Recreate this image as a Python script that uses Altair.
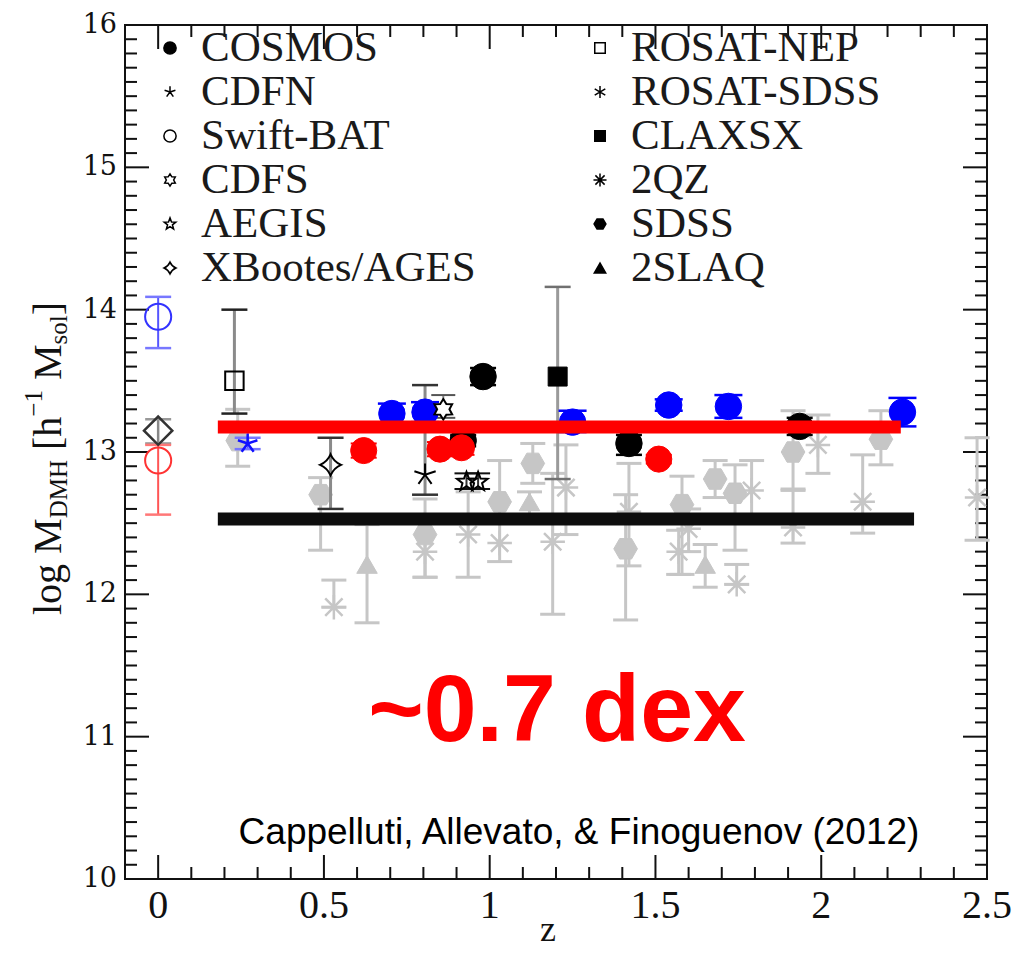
import altair as alt
import numpy as np
import pandas as pd

# ---------------- values ----------------
# grey literature compilation
sdss_z  = [0.24, 0.49, 0.805, 1.03, 1.13, 1.41, 1.58, 1.68, 1.74, 1.915, 2.18]
sdss_m  = [13.08, 12.70, 12.42, 12.65, 12.92, 12.32, 12.63, 12.81, 12.71, 13.00, 13.09]
sdss_lo = [12.90, 12.31, 12.12, 12.50, 12.78, 11.82, 12.14, 12.68, 12.31, 12.74, 12.91]
sdss_hi = [13.30, 12.82, 12.67, 12.94, 13.06, 12.70, 12.83, 12.94, 12.91, 13.29, 13.29]

qz_z  = [0.53, 0.805, 0.935, 1.03, 1.19, 1.23, 1.42, 1.57, 1.60, 1.745, 1.79, 1.915, 1.99, 2.125, 2.47]
qz_m  = [11.91, 12.30, 12.42, 12.36, 12.37, 12.75, 12.58, 12.30, 12.46, 12.07, 12.73, 12.47, 13.05, 12.65, 12.68]
qz_lo = [11.91, 12.12, 12.12, 12.23, 11.86, 12.42, 12.20, 12.14, 12.30, 12.07, 12.51, 12.36, 12.85, 12.43, 12.38]
qz_hi = [12.10, 12.55, 12.72, 12.50, 12.85, 13.05, 12.92, 12.45, 12.60, 12.21, 12.94, 12.73, 13.26, 12.98, 13.10]

slaq_z  = [0.63, 1.12, 1.65]
slaq_m  = [12.21, 12.65, 12.21]
slaq_lo = [11.80, 12.55, 12.05]
slaq_hi = [12.49, 12.72, 12.35]

# highlighted X-ray samples
cosmos_z  = [0.92, 0.98, 1.42, 1.935]
cosmos_m  = [13.08, 13.53, 13.06, 13.18]
cosmos_lo = [13.04, 13.47, 12.98, 13.12]
cosmos_hi = [13.12, 13.59, 13.12, 13.24]

blue_z  = [0.705, 0.805, 1.25, 1.54, 1.72, 2.245]
blue_m  = [13.27, 13.28, 13.21, 13.33, 13.32, 13.28]
blue_lo = [13.20, 13.21, 13.14, 13.29, 13.24, 13.18]
blue_hi = [13.34, 13.35, 13.29, 13.37, 13.40, 13.38]

red_z  = [0.62, 0.85, 0.915, 1.51]
red_m  = [13.01, 13.02, 13.03, 12.95]
red_lo = [12.96, 12.97, 12.98, 12.92]
red_hi = [13.06, 13.07, 13.08, 12.98]

swiftb_z, swiftb_m, swiftb_lo, swiftb_hi = [0.0], [13.95], [13.73], [14.09]
swiftr_z, swiftr_m, swiftr_lo, swiftr_hi = [0.0], [12.94], [12.56], [13.05]
diam_z, diam_m, diam_lo, diam_hi = [0.0], [13.15], [13.06], [13.23]
cdfnb_z, cdfnb_m, cdfnb_lo, cdfnb_hi = [0.27], [13.06], [13.02], [13.10]
cdfn_z, cdfn_m, cdfn_lo, cdfn_hi = [0.805], [12.84], [12.70], [13.47]
nep_z, nep_m, nep_lo, nep_hi = [0.23], [13.50], [13.27], [14.00]
xb_z, xb_m, xb_lo, xb_hi = [0.52], [12.91], [12.60], [13.10]
cdfs_z, cdfs_m, cdfs_lo, cdfs_hi = [0.86], [13.30], [13.24], [13.40]
aegis_z, aegis_m, aegis_lo, aegis_hi = [0.93, 0.965], [12.79, 12.79], [12.74, 12.74], [12.85, 12.85]
clx_z, clx_m, clx_lo, clx_hi = [1.205], [13.53], [12.81], [14.16]

# the two mean-mass bands
band_z0 = [0.18, 0.18]
band_z1 = [2.24, 2.28]
band_m = [13.175, 12.53]

legend_names = ["COSMOS", "CDFN", "Swift-BAT", "CDFS", "AEGIS", "XBootes/AGES",
                "ROSAT-NEP", "ROSAT-SDSS", "CLAXSX", "2QZ", "SDSS", "2SLAQ"]
ann_text = ["~0.7 dex", "Cappelluti, Allevato, & Finoguenov (2012)"]
title_parts = ["log", "M", "DMH", "[h", "\u22121", "M", "sol", "]"]
x_title = "z"
x_ticks = [0, 0.5, 1, 1.5, 2, 2.5]
x_tick_labels = ["0", "0.5", "1", "1.5", "2", "2.5"]
y_ticks = [10, 11, 12, 13, 14, 15, 16]
y_tick_labels = ["10", "11", "12", "13", "14", "15", "16"]

# ---------------- geometry & styles ----------------
W, H = 862, 854
XMIN, XMAX, YMIN, YMAX = -0.1, 2.5, 10.0, 16.0
xs = alt.Scale(domain=[XMIN, XMAX], nice=False, zero=False)
ys = alt.Scale(domain=[YMIN, YMAX], nice=False, zero=False)


def px2z(p):
    return XMIN + p * (XMAX - XMIN) / W


def py2m(p):
    return YMAX - p * (YMAX - YMIN) / H


def star(n, r_in):
    pts = []
    for k in range(2 * n):
        r = 1.0 if k % 2 == 0 else r_in
        a = -np.pi / 2 + k * np.pi / n
        pts.append(f"{r*np.cos(a):.3f},{r*np.sin(a):.3f}")
    return "M" + "L".join(pts) + "Z"


HEX = "M-1,0L-0.5,-0.866L0.5,-0.866L1,0L0.5,0.866L-0.5,0.866Z"
AST8 = "M0,-1L0,1M-1,0L1,0M-0.707,-0.707L0.707,0.707M-0.707,0.707L0.707,-0.707"
AST6 = "M0,-1L0,1M-0.866,-0.5L0.866,0.5M-0.866,0.5L0.866,-0.5"
SPOKE5 = "M0,0L0,-1M0,0L0.951,-0.309M0,0L0.588,0.809M0,0L-0.588,0.809M0,0L-0.951,-0.309"
STAR5 = star(5, 0.42)
STAR6 = star(6, 0.6)
STAR4 = "M0,-1Q0.3,-0.3,1,0Q0.3,0.3,0,1Q-0.3,0.3,-1,0Q-0.3,-0.3,0,-1Z"
CAP = "M-1,0L1,0"

GREY = "#c6c6c6"
BLUE = "#0000ff"
RED = "#ff0000"
BLK = "#000000"
INK = "#111111"


def st(shape, size, fill, stroke, sw, eb, ebw, cap, capw, capsw=2):
    return dict(shape=shape, size=size, fill=fill, stroke=stroke, sw=sw,
                eb=eb, ebw=ebw, cap=cap, capw=capw, capsw=capsw)


def table(items):
    frames = []
    for z, m, lo, hi, s in items:
        d = pd.DataFrame({"z": z, "m": m, "lo": lo, "hi": hi})
        for k, v in s.items():
            d[k] = v
        frames.append(d)
    return pd.concat(frames, ignore_index=True)


grey_df = table([
    (qz_z, qz_m, qz_lo, qz_hi, st(AST8, 600, "none", GREY, 2.5, GREY, 3, GREY, 25, 3)),
    (sdss_z, sdss_m, sdss_lo, sdss_hi, st(HEX, 560, GREY, GREY, 1, GREY, 3, GREY, 25, 3)),
    (slaq_z, slaq_m, slaq_lo, slaq_hi, st("triangle-up", 420, GREY, GREY, 1, GREY, 3, GREY, 25, 3)),
])

col_df = table([
    (clx_z, clx_m, clx_lo, clx_hi, st("square", 360, BLK, BLK, 1, "#9a9a9a", 3, "#707070", 26, 2.5)),
    (nep_z, nep_m, nep_lo, nep_hi, st("square", 340, "none", BLK, 2, "#8a8a8a", 3, "#222222", 26, 2.5)),
    (cdfn_z, cdfn_m, cdfn_lo, cdfn_hi, st(SPOKE5, 500, "none", BLK, 2, "#8a8a8a", 3, "#333333", 26, 2.5)),
    (xb_z, xb_m, xb_lo, xb_hi, st(STAR4, 440, "none", BLK, 2, "#8a8a8a", 3, "#333333", 26, 2.5)),
    (diam_z, diam_m, diam_lo, diam_hi, st("diamond", 800, "none", "#333333", 2.5, "#888888", 2.5, "#999999", 26, 2.5)),
    (swiftb_z, swiftb_m, swiftb_lo, swiftb_hi, st("circle", 680, "none", "#3333ff", 2, "#5555ff", 2, "#7777ff", 26, 2.5)),
    (swiftr_z, swiftr_m, swiftr_lo, swiftr_hi, st("circle", 680, "none", "#ff3333", 2, "#ff5555", 2, "#ff7777", 26, 2.5)),
    (cdfnb_z, cdfnb_m, cdfnb_lo, cdfnb_hi, st(SPOKE5, 420, "none", "#1010ff", 2.5, "#5555ff", 2, "#7777ff", 26, 2.5)),
    (cosmos_z, cosmos_m, cosmos_lo, cosmos_hi, st("circle", 700, BLK, BLK, 1, BLK, 2, BLK, 26, 2.5)),
    (blue_z, blue_m, blue_lo, blue_hi, st("circle", 700, BLUE, BLUE, 1, BLUE, 2, BLUE, 28, 2.5)),
    (cdfs_z, cdfs_m, cdfs_lo, cdfs_hi, st(STAR6, 420, "white", BLK, 2, "#8a8a8a", 2, "#555555", 24, 2)),
    (aegis_z, aegis_m, aegis_lo, aegis_hi, st(STAR5, 400, "none", BLK, 2, "#333333", 2, "#111111", 24, 2)),
    (red_z, red_m, red_lo, red_hi, st("circle", 680, RED, RED, 1, RED, 2, RED, 26, 2)),
])

X_none = dict(scale=xs, axis=None)
Y_none = dict(scale=ys, axis=None)


def err_layers(df):
    base = alt.Chart(df)
    bars = base.mark_rule().encode(
        x=alt.X("z:Q", **X_none),
        y=alt.Y("lo:Q", **Y_none), y2="hi:Q",
        color=alt.Color("eb:N", scale=None),
        strokeWidth=alt.StrokeWidth("ebw:Q", scale=None))
    caps = base.transform_fold(["lo", "hi"], as_=["end", "yv"]).transform_calculate(
        cs="datum.capw*datum.capw").mark_point(opacity=1, shape=CAP, fill="none").encode(
        x=alt.X("z:Q", **X_none),
        y=alt.Y("yv:Q", **Y_none),
        stroke=alt.Stroke("cap:N", scale=None),
        strokeWidth=alt.StrokeWidth("capsw:Q", scale=None),
        size=alt.Size("cs:Q", scale=None))
    return [bars, caps]


def marker_layer(df, xf="z", yf="m"):
    return alt.Chart(df).mark_point(opacity=1).encode(
        x=alt.X(f"{xf}:Q", **X_none),
        y=alt.Y(f"{yf}:Q", **Y_none),
        shape=alt.Shape("shape:N", scale=None),
        size=alt.Size("size:Q", scale=None),
        fill=alt.Fill("fill:N", scale=None),
        stroke=alt.Stroke("stroke:N", scale=None),
        strokeWidth=alt.StrokeWidth("sw:Q", scale=None))


# ---------------- frame ticks (inward, all four sides) ----------------
def xtick_layer(vals, length, top):
    y0, y1 = (0, length) if top else (H, H - length)
    return alt.Chart(pd.DataFrame({"t": vals})).mark_rule(color=INK, strokeWidth=2).encode(
        x=alt.X("t:Q", **X_none), y=alt.value(y0), y2=alt.value(y1))


def ytick_layer(vals, length, right):
    x0, x1 = (W, W - length) if right else (0, length)
    return alt.Chart(pd.DataFrame({"t": vals})).mark_rule(color=INK, strokeWidth=2).encode(
        y=alt.Y("t:Q", **Y_none), x=alt.value(x0), x2=alt.value(x1))


xmaj = list(x_ticks)
xmin_ = [round(v, 1) for v in np.arange(-0.1, 2.5001, 0.1) if abs(round(v * 2) - v * 2) > 1e-6]
ymaj = [11, 12, 13, 14, 15]
ymin_ = [round(v, 1) for v in np.arange(10.1, 16.0, 0.1) if abs(round(v) - v) > 1e-6]

tick_layers = [xtick_layer(xmaj, 24, False), xtick_layer(xmin_, 12, False),
               xtick_layer(xmaj, 24, True), xtick_layer(xmin_, 12, True),
               ytick_layer(ymaj, 24, False), ytick_layer(ymin_, 12, False),
               ytick_layer(ymaj, 24, True), ytick_layer(ymin_, 12, True)]

# tick labels and x title
xlab_layer = alt.Chart(pd.DataFrame({"t": x_ticks, "s": x_tick_labels})).mark_text(
    font="Liberation Serif", fontSize=40, color=INK, align="center", baseline="middle").encode(
    x=alt.X("t:Q", **X_none), y=alt.value(H + 27), text="s:N")
ylab_layer = alt.Chart(pd.DataFrame({"t": y_ticks, "s": y_tick_labels})).mark_text(
    font="DejaVu Serif", fontSize=27, color=INK, align="right", baseline="middle").encode(
    y=alt.Y("t:Q", **Y_none), x=alt.value(-8), text="s:N")
xtitle_layer = alt.Chart(pd.DataFrame({"s": [x_title]})).mark_text(
    font="Liberation Serif", fontSize=36, color=INK, align="center", baseline="middle").encode(
    x=alt.value(W / 2 - 8), y=alt.value(H + 51), text="s:N")

# ---------------- bands ----------------
band_df = pd.DataFrame({"z0": band_z0, "z1": band_z1, "m": band_m, "c": [RED, "#0d0d0d"]})
band_layer = alt.Chart(band_df).mark_rule(strokeWidth=13).encode(
    x=alt.X("z0:Q", **X_none), x2="z1:Q",
    y=alt.Y("m:Q", **Y_none),
    color=alt.Color("c:N", scale=None))

# ---------------- in-plot legend ----------------
leg_shapes = ["circle", SPOKE5, "circle", STAR6, STAR5, STAR4,
              "square", AST6, "square", AST8, HEX, "triangle-up"]
leg_fill = [BLK, "none", "none", "none", "none", "none",
            "none", "none", BLK, "none", BLK, BLK]
leg_size = [150, 130, 150, 150, 150, 140, 110, 150, 110, 170, 140, 130]
leg_rows = [i % 6 for i in range(12)]
leg_cols = [i // 6 for i in range(12)]
leg_df = pd.DataFrame({
    "name": legend_names,
    "shape": leg_shapes, "fill": leg_fill, "size": leg_size,
    "stroke": BLK, "sw": 1.5,
    "sz": [px2z(45 + 430 * c) for c in leg_cols],
    "tz": [px2z(76 + 430 * c) for c in leg_cols],
    "ly": [py2m(23 + 44 * r) for r in leg_rows],
})
leg_sym = marker_layer(leg_df, "sz", "ly")
leg_txt = alt.Chart(leg_df).mark_text(
    align="left", baseline="middle", font="Liberation Serif", fontSize=43,
    color="#1a1a1a").encode(
    x=alt.X("tz:Q", **X_none), y=alt.Y("ly:Q", **Y_none), text="name:N")

# ---------------- annotations ----------------
dex_layer = alt.Chart(pd.DataFrame({"t": [ann_text[0]]})).mark_text(
    font="Liberation Sans", fontWeight="bold", fontSize=95, color=RED,
    align="center", baseline="middle").encode(
    x=alt.value(432), y=alt.value(687), text="t:N")
ref_layer = alt.Chart(pd.DataFrame({"t": [ann_text[1]]})).mark_text(
    font="Liberation Sans", fontSize=37, color=BLK,
    align="center", baseline="middle").encode(
    x=alt.value(454), y=alt.value(808), text="t:N")

# rotated y-axis title built from pieces (sub/superscripts)
em = {"l": .278, "o": .5, "g": .5, "M": .889, "D": .722, "H": .722, "[": .333,
      "h": .5, "\u2212": .564, "1": .5, "s": .389, "]": .333}
p_size = [40, 40, 25, 40, 25, 40, 25, 40]
p_shift = [0, 0, 10, 0, -15, 0, 10, 0]
p_gap = [10, 0, 10, 0, 10, 0, 0, 0]
ys_px, cur = [], 590
for txt, fs, gap in zip(title_parts, p_size, p_gap):
    ys_px.append(cur)
    cur -= sum(em[c] for c in txt) * fs + gap
tt_df = pd.DataFrame({
    "t": title_parts, "fs": p_size,
    "tz": [px2z(-76 + s) for s in p_shift],
    "ty": [py2m(v) for v in ys_px],
})
title_layer = alt.Chart(tt_df).mark_text(
    font="Liberation Serif", angle=270, align="left", baseline="middle",
    color=INK).encode(
    x=alt.X("tz:Q", **X_none), y=alt.Y("ty:Q", **Y_none), text="t:N",
    size=alt.Size("fs:Q", scale=None))

layers = (tick_layers + err_layers(grey_df) + [marker_layer(grey_df)]
          + err_layers(col_df) + [marker_layer(col_df)]
          + [band_layer, leg_sym, leg_txt, dex_layer, ref_layer,
             xlab_layer, ylab_layer, xtitle_layer, title_layer])

chart = alt.layer(*layers).properties(
    width=W, height=H, autosize="none",
    padding={"left": 117, "top": 17, "right": 40, "bottom": 72},
    background="white",
).configure_view(stroke=INK, strokeWidth=2)

chart.save("out.html", embed_options={"renderer": "svg", "actions": False})
